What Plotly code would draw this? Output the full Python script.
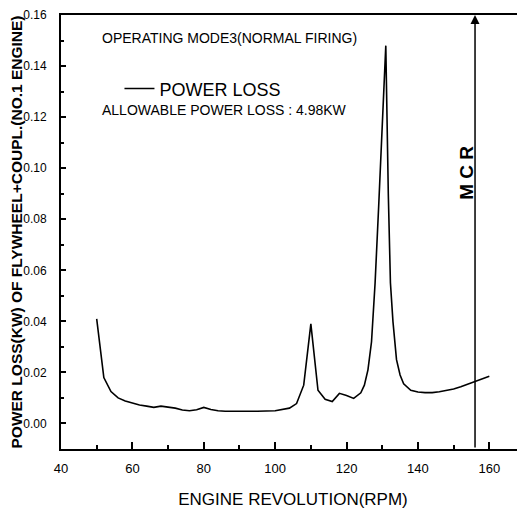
import plotly.graph_objects as go

rpm = [50, 52, 54, 56, 58, 60, 62, 64, 66, 68, 70, 72, 74, 76, 78, 80, 82, 84, 86, 88, 90, 95,
       100, 102, 104, 106, 108, 110, 112, 114, 116, 118, 120, 122, 124, 125, 126, 127, 128, 129,
       130, 131, 131.7, 132.3, 133, 134, 135, 136, 138, 140, 142, 144, 146, 148, 150, 152, 154,
       156, 158, 160]
power_loss = [0.041, 0.018, 0.0125, 0.010, 0.0088, 0.008, 0.0072, 0.0068, 0.0063, 0.0068, 0.0064,
              0.006, 0.0053, 0.005, 0.0054, 0.0063, 0.0055, 0.005, 0.0048, 0.0048, 0.0047, 0.0048,
              0.005, 0.0055, 0.006, 0.0078, 0.015, 0.039, 0.013, 0.0095, 0.0086, 0.0118, 0.011,
              0.0098, 0.012, 0.015, 0.021, 0.032, 0.055, 0.085, 0.12, 0.148, 0.09, 0.055, 0.04,
              0.025, 0.019, 0.0155, 0.013, 0.0123, 0.0121, 0.0121, 0.0124, 0.0129, 0.0135, 0.0144,
              0.0154, 0.0164, 0.0174, 0.0185]
mcr_rpm = 156
x_ticks = [40, 60, 80, 100, 120, 140, 160]
y_ticks = [0.00, 0.02, 0.04, 0.06, 0.08, 0.10, 0.12, 0.14, 0.16]

FONT = "Liberation Sans, Arial, sans-serif"

fig = go.Figure()
fig.add_trace(go.Scatter(x=rpm, y=power_loss, mode="lines", name="POWER LOSS",
                         line=dict(color="black", width=1.6), showlegend=True))

fig.add_annotation(x=mcr_rpm, y=0.16, ax=mcr_rpm, ay=-0.01, xref="x", yref="y",
                   axref="x", ayref="y", showarrow=True, arrowhead=2, arrowsize=1.2,
                   arrowwidth=1.5, arrowcolor="black", text="")
fig.add_annotation(x=mcr_rpm, y=0.098, xref="x", yref="y", text="<b>M C R</b>", textangle=-90,
                   showarrow=False, xanchor="right", xshift=4,
                   font=dict(family=FONT, size=19, color="black"))
fig.add_annotation(x=0.085, y=0.947, xref="paper", yref="paper", xanchor="left", yanchor="middle",
                   text="OPERATING MODE3(NORMAL FIRING)", showarrow=False,
                   font=dict(family=FONT, size=14, color="black"))
fig.add_annotation(x=0.085, y=0.782, xref="paper", yref="paper", xanchor="left", yanchor="middle",
                   text="ALLOWABLE POWER LOSS : 4.98KW", showarrow=False,
                   font=dict(family=FONT, size=14, color="black"))

fig.update_layout(
    width=517, height=506,
    margin=dict(l=53, r=0, t=7, b=65, autoexpand=False),
    plot_bgcolor="white", paper_bgcolor="white",
    font=dict(family=FONT, color="black"),
    legend=dict(x=0.126, y=0.83, xanchor="left", yanchor="middle",
                bgcolor="rgba(0,0,0,0)", font=dict(family=FONT, size=18, color="black"),
                itemwidth=30),
    xaxis=dict(range=[40, 170], tickvals=x_ticks, ticks="inside", ticklen=7, tickwidth=1.5,
               tickcolor="black", showline=True, linecolor="black", linewidth=2, mirror=True,
               showgrid=False, zeroline=False, automargin=False, ticklabelstandoff=6,
               minor=dict(dtick=10, tick0=40, ticks="inside", ticklen=4, tickcolor="black"),
               tickfont=dict(family=FONT, size=13, color="black"),
               title=dict(text="ENGINE REVOLUTION(RPM)", font=dict(family=FONT, size=17, color="black"),
                          standoff=19)),
    yaxis=dict(range=[-0.01, 0.16001], tickvals=y_ticks, tickformat=".2f", ticks="inside", ticklen=5,
               tickwidth=1.5, tickcolor="black", showline=True, linecolor="black", linewidth=2,
               showgrid=False, zeroline=False, automargin=False, ticklabelstandoff=10,
               ticklabeloverflow="allow",
               minor=dict(dtick=0.01, tick0=0, ticks="inside", ticklen=3, tickcolor="black"),
               tickfont=dict(family=FONT, size=12, color="black"),
               title=dict(text="<b>POWER LOSS(KW) OF FLYWHEEL+COUPL.(NO.1 ENGINE)</b>",
                          font=dict(family=FONT, size=15.5, color="black"), standoff=0)),
)

fig.write_html("out.html")
